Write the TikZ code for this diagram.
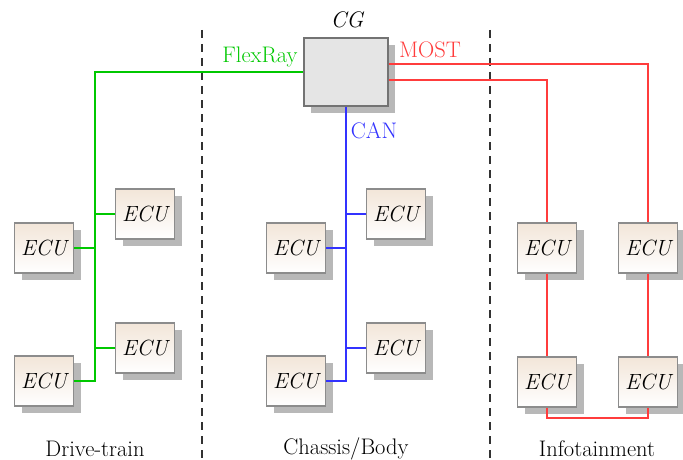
\documentclass[tikz,border=0pt]{standalone}
\usepackage{tikz}
\usepackage{xcolor}
\usetikzlibrary{shadows}

\tikzset{
  ecu/.style={draw=gray!90, line width=1.2pt, minimum width=59pt, minimum height=50pt,
    top color=brown!20!white, bottom color=white,
    drop shadow={shadow xshift=7pt, shadow yshift=-7pt, fill=black!28, opacity=1},
    font=\fontsize{22}{26}\selectfont\itshape},
  gateway/.style={draw=gray!90!black, line width=2pt, fill=gray!20, minimum width=84pt, minimum height=68pt,
    drop shadow={shadow xshift=7pt, shadow yshift=-7pt, fill=black!28, opacity=1}},
  bus/.style={line width=2pt},
  lbl/.style={font=\fontsize{22.5}{27}\selectfont}
}

\begin{document}
\begin{tikzpicture}[x=1pt,y=-1pt]
\useasboundingbox (0,0) rectangle (683,460);
\definecolor{flexColor}{RGB}{0,200,0}
\definecolor{canColor}{RGB}{50,50,255}
\definecolor{mostColor}{RGB}{255,60,60}
\definecolor{sepColor}{RGB}{50,50,50}

% domain borders
\draw[sepColor, line width=2pt, dash pattern=on 8pt off 6pt] (202,30) -- (202,460);
\draw[sepColor, line width=2pt, dash pattern=on 8pt off 6pt] (490,30) -- (490,460);

% central gateway
\node[gateway] (cg) at (346,72) {};
\node[lbl, font=\fontsize{22.5}{27}\selectfont\itshape] (cglabel) at (347,20) {CG};

% Drive-train
\node[ecu] (dt1) at (44,248) {ECU};
\node[ecu] (dt2) at (44,381) {ECU};
\node[ecu] (dt3) at (145,214) {ECU};
\node[ecu] (dt4) at (145,348) {ECU};
\coordinate (flexcorner) at (95,72);
\draw[flexColor, bus] (cg.west) -- (flexcorner) |- (dt2.east);
\draw[flexColor, bus] (dt1.east) -- (flexcorner |- dt1.east);
\draw[flexColor, bus] (dt3.west) -- (flexcorner |- dt3.west);
\draw[flexColor, bus] (dt4.west) -- (flexcorner |- dt4.west);
\node[lbl, text=flexColor] (flexlabel) at (260,57) {FlexRay};

% Chassis/Body
\node[ecu] (cb1) at (296,248) {ECU};
\node[ecu] (cb2) at (296,381) {ECU};
\node[ecu] (cb3) at (396,214) {ECU};
\node[ecu] (cb4) at (396,348) {ECU};
\draw[canColor, bus] (cg.south) |- (cb2.east);
\draw[canColor, bus] (cb1.east) -- (cg.south |- cb1.east);
\draw[canColor, bus] (cb3.west) -- (cg.south |- cb3.west);
\draw[canColor, bus] (cb4.west) -- (cg.south |- cb4.west);
\node[lbl, text=canColor] (canlabel) at (374,131) {CAN};

% Infotainment
\node[ecu] (if1) at (547,248) {ECU};
\node[ecu] (if2) at (547,382) {ECU};
\node[ecu] (if3) at (648,248) {ECU};
\node[ecu] (if4) at (648,382) {ECU};
\draw[mostColor, bus] ([yshift=8pt]cg.east) -| (if3.north);
\draw[mostColor, bus] ([yshift=-8pt]cg.east) -| (if1.north);
\draw[mostColor, bus] (if1.south) -- (if2.north);
\draw[mostColor, bus] (if3.south) -- (if4.north);
\draw[mostColor, bus] (if2.south) -- ++(0,10) -| (if4.south);
\node[lbl, text=mostColor] (mostlabel) at (430,50) {MOST};

% domain names
\node[lbl] (dtname) at (95,449) {Drive-train};
\node[lbl] (cbname) at (346,449) {Chassis/Body};
\node[lbl] (ifname) at (597,449) {Infotainment};
\end{tikzpicture}
\end{document}
